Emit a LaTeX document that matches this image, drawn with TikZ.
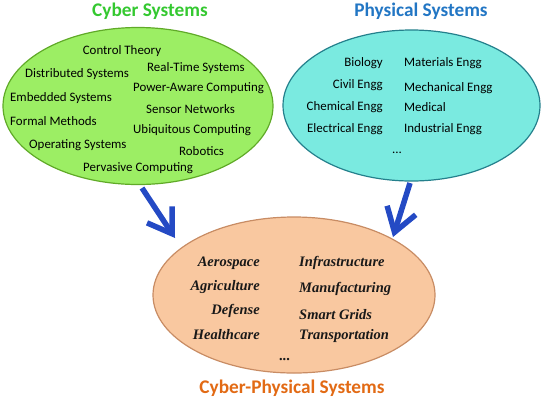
\documentclass[tikz,border=0pt]{standalone}
\usepackage{fontspec}
\usetikzlibrary{shapes.geometric,arrows.meta}
\newfontfamily\calfont{Carlito}
\newfontfamily\schfont{Liberation Serif}
\definecolor{cybtitle}{RGB}{52,200,48}
\definecolor{phytitle}{RGB}{34,118,196}
\definecolor{cpstitle}{RGB}{226,106,20}
\definecolor{cybfill}{RGB}{156,238,100}
\definecolor{cybedge}{RGB}{96,170,40}
\definecolor{phyfill}{RGB}{122,234,224}
\definecolor{phyedge}{RGB}{36,128,140}
\definecolor{cpsfill}{RGB}{249,200,160}
\definecolor{cpsedge}{RGB}{200,140,100}
\definecolor{arrowblue}{RGB}{36,74,196}
\tikzset{
  blob/.style={ellipse, inner sep=0pt, line width=1.2pt},
  title/.style={font=\calfont\bfseries\fontsize{19.3}{22}\selectfont, inner sep=0pt},
  item/.style={font=\calfont\fontsize{12.9}{15}\selectfont, inner sep=0pt, text=black},
  cpsitem/.style={font=\schfont\bfseries\itshape\fontsize{14.5}{17}\selectfont, inner sep=0pt, text=black!90},
  flow/.style={draw=arrowblue, line width=5.5pt, -{Straight Barb[length=23pt, width=30pt]}}
}
\begin{document}
\begin{tikzpicture}[x=1pt,y=-1pt]
\useasboundingbox (0,0) rectangle (543,400);
% ellipses
\node[blob, fill=cybfill, draw=cybedge, minimum width=270pt, minimum height=157pt] (cyber) at (138,106) {};
\node[blob, fill=phyfill, draw=phyedge, minimum width=257pt, minimum height=151pt] (phys) at (411.5,105.5) {};
\node[blob, fill=cpsfill, draw=cpsedge, minimum width=282pt, minimum height=156pt] (cps) at (294,295) {};
% titles
\node[title, text=cybtitle] (tcyb) at (150,11) {Cyber Systems};
\node[title, text=phytitle] (tphy) at (421,11) {Physical Systems};
\node[title, text=cpstitle] (tcps) at (292,388) {Cyber-Physical Systems};
% cyber items
\node[item, anchor=center] (c1) at (122,51) {Control Theory};
\node[item, anchor=west] (c2) at (25,74) {Distributed Systems};
\node[item, anchor=west] (c3) at (147,68) {Real-Time Systems};
\node[item, anchor=west] (c4) at (133,88) {Power-Aware Computing};
\node[item, anchor=west] (c5) at (10,98) {Embedded Systems};
\node[item, anchor=west] (c6) at (146,109) {Sensor Networks};
\node[item, anchor=west] (c7) at (10,121) {Formal Methods};
\node[item, anchor=west] (c8) at (133,130) {Ubiquitous Computing};
\node[item, anchor=west] (c9) at (29,145) {Operating Systems};
\node[item, anchor=west] (c10) at (179,151) {Robotics};
\node[item, anchor=west] (c11) at (83,168) {Pervasive Computing};
% physical items
\node[item, anchor=east] (p1) at (383,63) {Biology};
\node[item, anchor=east] (p2) at (383,85) {Civil Engg};
\node[item, anchor=east] (p3) at (383,107) {Chemical Engg};
\node[item, anchor=east] (p4) at (383,129) {Electrical Engg};
\node[item, anchor=west] (p5) at (404,63) {Materials Engg};
\node[item, anchor=west] (p6) at (404,88) {Mechanical Engg};
\node[item, anchor=west] (p7) at (404,107) {Medical};
\node[item, anchor=west] (p8) at (404,129) {Industrial Engg};
\node[item] (p9) at (397,153) {...};
% cps items
\node[cpsitem, anchor=east] (d1) at (260,263) {Aerospace};
\node[cpsitem, anchor=east] (d2) at (260,287) {Agriculture};
\node[cpsitem, anchor=east] (d3) at (260,311) {Defense};
\node[cpsitem, anchor=east] (d4) at (260,335) {Healthcare};
\node[cpsitem, anchor=west] (d5) at (299,263) {Infrastructure};
\node[cpsitem, anchor=west] (d6) at (299,289) {Manufacturing};
\node[cpsitem, anchor=west] (d7) at (299,315) {Smart Grids};
\node[cpsitem, anchor=west] (d8) at (299,336) {Transportation};
\node[cpsitem] (d9) at (285,360) {...};
% arrows
\coordinate (a1) at (142,188);
\coordinate (a2) at (175,238);
\coordinate (b1) at (410,183);
\coordinate (b2) at (393,237);
\draw[flow] (a1) -- (a2);
\draw[flow] (b1) -- (b2);
\end{tikzpicture}
\end{document}
